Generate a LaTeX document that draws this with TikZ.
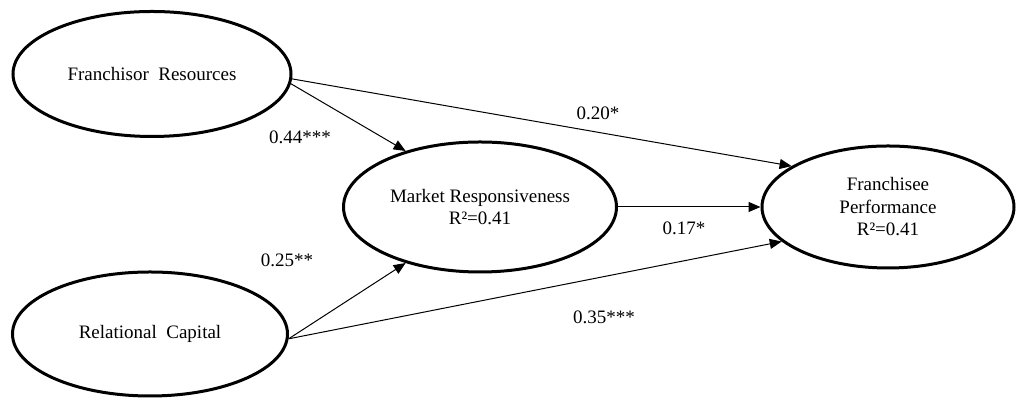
\documentclass[tikz,border=0pt]{standalone}
\usepackage{fontspec}
\setmainfont{Liberation Serif}
\usetikzlibrary{positioning,shapes.geometric,arrows.meta}

\begin{document}
\begin{tikzpicture}[x=0.5pt,y=-0.5pt,->,>={Triangle[length=6pt,width=5pt]},
                    on grid,font=\fontsize{9.5}{11.25}\selectfont,
                    latent/.style={ellipse,draw,line width=1.5pt,inner sep=0pt,align=center},
                    coef/.style={inner sep=0pt}]

    \useasboundingbox (0,0) rectangle (1019,399);

    % Define constructs
    \node[latent,minimum width=139pt,minimum height=62.5pt] (fr) at (152,74) {Franchisor\ \ Resources};
    \node[latent,minimum width=137.5pt,minimum height=62pt] (rc) [below=130pt of fr,xshift=-1pt] {Relational\enspace Capital};
    \node[latent,minimum width=136.5pt,minimum height=65pt] (mr) [below right=66.5pt and 164pt of fr] {Market Responsiveness\\R²=0.41};
    \node[latent,minimum width=126pt,minimum height=61pt] (fp) [right=204pt of mr] {Franchisee\\Performance\\R²=0.41};

    % Path coefficients
    \node[coef] (c44) at (300,137) {0.44***};
    \node[coef] (c20) at (598,113) {0.20*};
    \node[coef] (c17) at (684,228) {0.17*};
    \node[coef] (c25) at (287,260) {0.25**};
    \node[coef] (c35) at (604,317) {0.35***};

    % Draw edges
    \path[line width=0.5pt]
        (fr.-4) edge (mr.143)
        (fr.-2) edge (fp.157)
        (mr) edge (fp)
        (rc.-2) edge (mr.217)
        (rc.-2) edge (fp.198);

\end{tikzpicture}
\end{document}
